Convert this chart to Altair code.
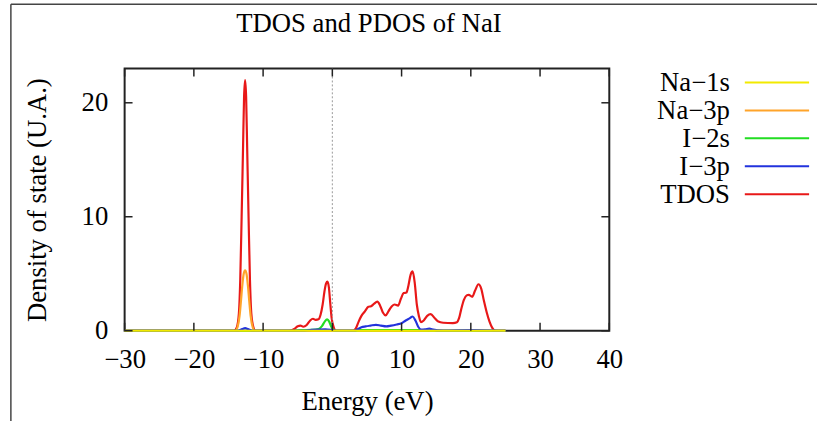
import altair as alt
import pandas as pd

# Series names, colours (legend order) and drawing order
series_names = ["Na\u22121s", "Na\u22123p", "I\u22122s", "I\u22123p", "TDOS"]
series_colors = ["#f2ea00", "#ffa42a", "#22dd22", "#2233dd", "#e81818"]
draw_order = ["TDOS", "Na\u22123p", "I\u22122s", "I\u22123p", "Na\u22121s"]

# Axis ticks
x_tick_values = [-30, -20, -10, 0, 10, 20, 30, 40]
y_tick_values = [0, 10, 20]

# Na-1s projected DOS
na1s_e = [-30, -20, -10, 0, 10, 20, 25]
na1s_dos = [0, 0, 0, 0, 0, 0, 0]

# Na-3p projected DOS
na3p_e = [-30, -14.0, -13.7, -13.4, -13.2, -13.0, -12.8, -12.6, -12.4, -12.2, -12.0, -11.8, -11.5, -11.2, 25]
na3p_dos = [0, 0, 0.3, 1.3, 2.6, 4.0, 5.0, 5.3, 5.0, 4.0, 2.6, 1.3, 0.3, 0, 0]

# I-2s projected DOS
i2s_e = [-30, -5.5, -4.5, -3.0, -2.0, -1.5, -1.1, -0.75, -0.45, -0.15, 0.2, 0.5,
         3.3, 4.0, 8.0, 12.0, 14.0, 16.0, 25]
i2s_dos = [0, 0, 0.05, 0.08, 0.15, 0.4, 0.8, 1.0, 0.8, 0.35, 0.05, 0,
           0, 0.05, 0.06, 0.05, 0.03, 0, 0]

# I-3p projected DOS
i3p_e = [-30, -13.6, -13.0, -12.6, -12.2, -11.6, -4.0, -3.0, -1.0, 0.0, 0.5,
         3.2, 3.6, 4.2, 4.8, 5.5, 6.3, 7.0, 7.8, 8.5, 9.3, 10.0, 10.6, 11.2, 11.6,
         12.0, 12.4, 12.8, 13.4, 14.0, 14.6, 15.2, 16.0, 20.0, 23.0, 24.0, 25]
i3p_dos = [0, 0, 0.15, 0.22, 0.15, 0, 0, 0.08, 0.12, 0.05, 0,
           0, 0.1, 0.3, 0.38, 0.45, 0.52, 0.45, 0.38, 0.45, 0.55, 0.65, 0.9, 1.1, 1.25,
           0.9, 0.35, 0.1, 0.12, 0.18, 0.1, 0.03, 0.02, 0.05, 0.02, 0, 0]

# Total DOS
tdos_e = [-30, -14.2, -13.8, -13.5, -13.3, -13.1, -12.9, -12.75, -12.6, -12.45, -12.3,
          -12.1, -11.9, -11.7, -11.4, -11.1,
          -6.2, -5.5, -5.0, -4.6, -4.2, -3.7, -3.2, -2.8, -2.4, -2.0, -1.7, -1.4,
          -1.15, -0.9, -0.7, -0.5, -0.3, -0.1, 0.2, 0.5,
          3.0, 3.4, 3.8, 4.2, 4.7, 5.2, 5.6, 6.0, 6.5, 6.9, 7.3, 7.7, 8.1, 8.6, 9.0,
          9.5, 9.9, 10.3, 10.7, 11.0, 11.3, 11.6, 11.9, 12.2, 12.5, 12.8, 13.2, 13.7,
          14.2, 14.8, 15.3, 16.0, 17.4, 18.0, 18.3, 18.6, 19.0, 19.4, 19.7, 20.2,
          20.6, 21.1, 21.5, 21.9, 22.3, 22.7, 23.1, 23.5, 25]
tdos_dos = [0, 0, 0.3, 1.5, 4.5, 10.0, 16.0, 20.5, 22.0, 20.5, 16.0,
            10.0, 4.5, 1.5, 0.3, 0,
            0, 0.15, 0.4, 0.45, 0.35, 0.5, 0.9, 1.05, 0.95, 1.0, 1.4, 2.3,
            3.4, 4.15, 4.3, 3.8, 2.4, 1.1, 0.3, 0,
            0, 0.2, 0.8, 1.3, 1.7, 2.1, 2.15, 2.35, 2.55, 2.2, 1.6, 1.35, 1.7, 2.15, 2.3,
            2.2, 2.8, 3.3, 3.35, 4.0, 4.9, 5.2, 4.2, 2.3, 1.3, 0.75, 0.9, 1.3,
            1.45, 1.1, 0.8, 0.7, 0.67, 0.75, 1.1, 1.85, 2.7, 3.1, 3.15, 2.98,
            3.5, 4.08, 3.7, 2.6, 1.6, 0.8, 0.25, 0, 0]

chart_title = "TDOS and PDOS of NaI"

series_data = {
    "Na\u22121s": (na1s_e, na1s_dos),
    "Na\u22123p": (na3p_e, na3p_dos),
    "I\u22122s": (i2s_e, i2s_dos),
    "I\u22123p": (i3p_e, i3p_dos),
    "TDOS": (tdos_e, tdos_dos),
}

rows = []
for name, (es, ds) in series_data.items():
    for e, d in zip(es, ds):
        rows.append({"energy": e, "dos": d, "series": name})
df = pd.DataFrame(rows)

FONT = "Liberation Serif"
INK = "#222222"
W, H = 490, 265

x_enc = alt.X(
    "energy:Q",
    scale=alt.Scale(domain=[-30, 40], nice=False, zero=False),
    axis=alt.Axis(values=x_tick_values, title="Energy (eV)", labelPadding=16,
                  labelFlush=False, labelOverlap=False, titlePadding=17),
)
y_enc = alt.Y(
    "dos:Q",
    scale=alt.Scale(domain=[0, 23], nice=False),
    axis=alt.Axis(values=y_tick_values, title="Density of state (U.A.)",
                  labelPadding=17, titlePadding=30),
)
color_enc = alt.Color(
    "series:N",
    scale=alt.Scale(domain=series_names, range=series_colors),
    legend=None,
)

# DOS curves
line_layers = [
    alt.Chart(df)
    .transform_filter(alt.datum.series == name)
    .mark_line(strokeWidth=2.2, interpolate="monotone")
    .encode(x=x_enc, y=y_enc, color=color_enc)
    for name in draw_order
]

# Fermi level marker
fermi = (
    alt.Chart(pd.DataFrame({"energy": [0]}))
    .mark_rule(color="#999999", strokeWidth=1, strokeDash=[2, 2])
    .encode(x=x_enc)
)

# Inward tick marks on all four sides of the frame
xt = pd.DataFrame({"energy": x_tick_values})
yt = pd.DataFrame({"dos": y_tick_values})
tick_style = dict(color=INK, strokeWidth=1.5)
bottom_ticks = alt.Chart(xt).mark_rule(**tick_style).encode(
    x=x_enc, y=alt.value(H), y2=alt.value(H - 8))
top_ticks = alt.Chart(xt).mark_rule(**tick_style).encode(
    x=x_enc, y=alt.value(0), y2=alt.value(8))
left_ticks = alt.Chart(yt).mark_rule(**tick_style).encode(
    y=y_enc, x=alt.value(0), x2=alt.value(8))
right_ticks = alt.Chart(yt).mark_rule(**tick_style).encode(
    y=y_enc, x=alt.value(W - 8), x2=alt.value(W))

# Figure border (left and top edges) and title
one = pd.DataFrame({"label": [chart_title]})
border_left = alt.Chart(one).mark_rule(color="#444444", strokeWidth=1.5).encode(
    x=alt.value(-115), y=alt.value(-65), y2=alt.value(360))
border_top = alt.Chart(one).mark_rule(color="#444444", strokeWidth=1.5).encode(
    x=alt.value(-115), x2=alt.value(700), y=alt.value(-65))
title_text = alt.Chart(one).mark_text(
    font=FONT, fontSize=27, color="black", align="center", baseline="alphabetic"
).encode(x=alt.value(W / 2 + 2), y=alt.value(-37), text="label:N")

main = alt.layer(*line_layers, fermi, bottom_ticks, top_ticks, left_ticks,
                 right_ticks, border_left, border_top, title_text)

# Key: label followed by a line sample
leg_df = pd.DataFrame({"series": series_names})
leg_y = alt.Y(
    "series:N",
    scale=alt.Scale(type="point", domain=series_names, range=[14, 127], padding=0),
    axis=None,
)
leg_lines = alt.Chart(leg_df).mark_rule(strokeWidth=2).encode(
    x=alt.value(627), x2=alt.value(692), y=leg_y, color=color_enc)
leg_text = alt.Chart(leg_df).mark_text(
    align="right", baseline="middle", font=FONT, fontSize=27, color="black", dy=1
).encode(x=alt.value(612), y=leg_y, text="series:N")
key = alt.layer(leg_lines, leg_text)

chart = (
    alt.layer(main, key)
    .resolve_scale(y="independent")
    .properties(
        width=W,
        height=H,
        padding={"left": 10, "top": 1, "right": 0, "bottom": 0},
        background="white",
    )
    .configure_view(stroke=INK, strokeWidth=2)
    .configure_axis(
        grid=False, ticks=False, domain=False,
        labelFont=FONT, labelFontSize=27, labelColor="black",
        titleFont=FONT, titleFontSize=27, titleFontWeight="normal", titleColor="black",
    )
)

chart.save("out.html", embed_options={"renderer": "svg", "actions": False})
